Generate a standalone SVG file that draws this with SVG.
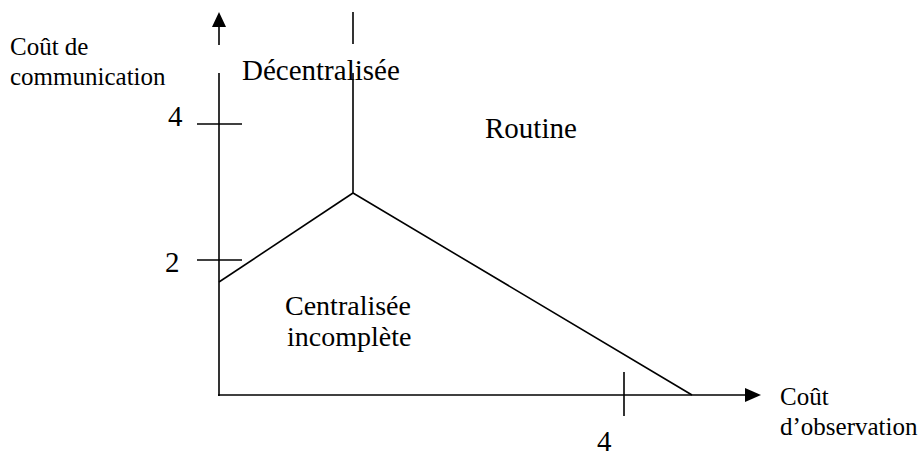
<svg xmlns="http://www.w3.org/2000/svg" width="919" height="457" viewBox="0 0 919 457">
<style>
.ln{stroke:#000;stroke-width:1.6;fill:none}
.lab{font-family:"Liberation Serif","Times New Roman",serif;fill:#000}
.big{font-size:29px}
.mid{font-size:28px}
.sm{font-size:25px}
</style>
<rect width="919" height="457" fill="#fff"/>
<g id="connectors">
<line class="ln" x1="219" y1="26" x2="219" y2="45"/>
<line class="ln" x1="219" y1="73" x2="219" y2="396"/>
<polygon points="219,12 212,27 226,27" fill="#000"/>
<line class="ln" x1="218" y1="395" x2="746" y2="395"/>
<polygon points="761,395 745,388 745,402" fill="#000"/>
<line class="ln" x1="197" y1="124" x2="242" y2="124"/>
<line class="ln" x1="197" y1="260" x2="242" y2="260"/>
<line class="ln" x1="624" y1="372" x2="624" y2="416"/>
<line class="ln" x1="353" y1="12" x2="353" y2="44"/>
<polyline class="ln" points="353,73 353,193 692,395"/>
<line class="ln" x1="219" y1="282" x2="353" y2="193"/>
</g>
<g id="y-label"><text class="lab sm" x="10" y="55">Coût de</text><text class="lab sm" x="10" y="85">communication</text></g>
<g id="x-label"><text class="lab sm" x="780" y="405">Coût</text><text class="lab sm" x="780" y="435">d’observation</text></g>
<g id="y4"><text class="lab big" x="168" y="126">4</text></g>
<g id="y2"><text class="lab big" x="165" y="272">2</text></g>
<g id="x4"><text class="lab big" x="597" y="451">4</text></g>
<g id="decentralisee"><text class="lab big" x="242" y="80">Décentralisée</text></g>
<g id="routine"><text class="lab big" x="485" y="138">Routine</text></g>
<g id="centralisee"><text class="lab mid" x="285" y="315">Centralisée</text><text class="lab mid" x="287" y="346">incomplète</text></g>
</svg>
